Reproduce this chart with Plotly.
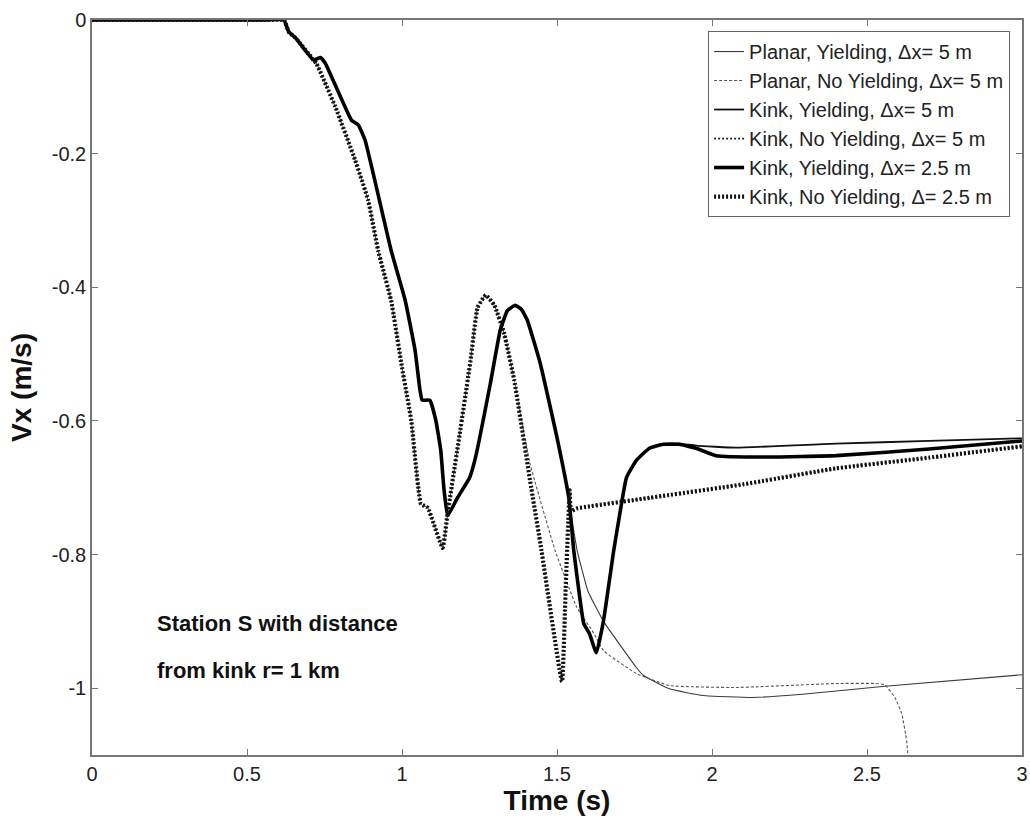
import plotly.graph_objects as go

# ---- data (time in s, Vx in m/s) ----
t_planar_y = [0.0, 0.55, 0.619, 0.635, 0.657, 0.715, 0.737, 0.753, 0.837, 0.859, 0.881, 0.965, 1.01, 1.042, 1.058,
              1.065, 1.09, 1.109, 1.125, 1.135, 1.147, 1.179, 1.218, 1.237, 1.285, 1.317, 1.34, 1.365, 1.385,
              1.404, 1.446, 1.5, 1.538, 1.565, 1.60, 1.65, 1.756, 1.779, 1.862, 1.971, 2.131, 2.292, 2.558, 3.0]
v_planar_y = [0.0, 0.0, 0.0, -0.018, -0.027, -0.06, -0.056, -0.065, -0.15, -0.157, -0.18, -0.345, -0.419, -0.494, -0.554,
              -0.569, -0.569, -0.599, -0.644, -0.70, -0.742, -0.715, -0.685, -0.655, -0.544, -0.464, -0.435, -0.427, -0.433,
              -0.449, -0.514, -0.625, -0.72, -0.794, -0.855, -0.90, -0.969, -0.981, -1.001, -1.011, -1.014, -1.009, -0.997, -0.98]

t_planar_ny = [0.0, 0.55, 0.619, 0.635, 0.657, 0.715, 0.724, 0.785, 0.849, 0.891, 0.923, 0.965, 1.0, 1.03, 1.061, 1.083,
               1.131, 1.147, 1.186, 1.221, 1.244, 1.27, 1.298, 1.33, 1.362, 1.413, 1.494, 1.564, 1.619, 1.65, 1.756,
               1.862, 2.077, 2.4, 2.526, 2.558, 2.59, 2.612, 2.628, 2.64]
v_planar_ny = [0.0, 0.0, 0.0, -0.018, -0.027, -0.06, -0.065, -0.13, -0.21, -0.27, -0.345, -0.42, -0.52, -0.60, -0.724, -0.73,
               -0.79, -0.739, -0.62, -0.51, -0.43, -0.412, -0.427, -0.47, -0.539, -0.664, -0.794, -0.879, -0.918, -0.944, -0.978,
               -0.996, -0.999, -0.993, -0.993, -0.995, -1.014, -1.038, -1.079, -1.15]

t_kink_y5 = [0.0, 0.55, 0.619, 0.635, 0.657, 0.715, 0.737, 0.753, 0.837, 0.859, 0.881, 0.965, 1.01, 1.042, 1.058,
             1.065, 1.09, 1.109, 1.125, 1.135, 1.147, 1.179, 1.218, 1.237, 1.285, 1.317, 1.34, 1.365, 1.385,
             1.404, 1.446, 1.5, 1.538, 1.554, 1.575, 1.586, 1.605, 1.627, 1.65, 1.683, 1.699, 1.724, 1.756,
             1.798, 1.843, 1.894, 1.949, 2.077, 2.4, 2.7, 3.0]
v_kink_y5 = [0.0, 0.0, 0.0, -0.018, -0.027, -0.06, -0.056, -0.065, -0.15, -0.157, -0.18, -0.345, -0.419, -0.494, -0.554,
             -0.569, -0.569, -0.599, -0.644, -0.70, -0.742, -0.715, -0.685, -0.655, -0.544, -0.464, -0.435, -0.427, -0.433,
             -0.449, -0.514, -0.625, -0.715, -0.794, -0.87, -0.903, -0.919, -0.947, -0.899, -0.794, -0.749, -0.685, -0.659,
             -0.641, -0.635, -0.634, -0.637, -0.640, -0.634, -0.630, -0.626]

t_kink_ny5 = [0.0, 0.55, 0.619, 0.635, 0.657, 0.715, 0.724, 0.785, 0.849, 0.891, 0.923, 0.965, 1.0, 1.03, 1.061, 1.083,
              1.131, 1.147, 1.186, 1.221, 1.244, 1.27, 1.298, 1.33, 1.362, 1.413, 1.45, 1.516, 1.528, 1.541, 1.545,
              1.564, 1.8, 2.1, 2.4, 2.7, 3.0]
v_kink_ny5 = [0.0, 0.0, 0.0, -0.018, -0.027, -0.06, -0.065, -0.13, -0.21, -0.27, -0.345, -0.42, -0.52, -0.60, -0.724, -0.73,
              -0.79, -0.739, -0.62, -0.51, -0.43, -0.412, -0.427, -0.47, -0.539, -0.689, -0.794, -0.99, -0.85, -0.704, -0.735,
              -0.731, -0.715, -0.695, -0.671, -0.655, -0.638]

t_kink_y25 = [0.0, 0.55, 0.619, 0.635, 0.657, 0.715, 0.737, 0.753, 0.837, 0.859, 0.881, 0.965, 1.01, 1.042, 1.058,
              1.065, 1.09, 1.109, 1.125, 1.135, 1.147, 1.179, 1.218, 1.237, 1.285, 1.317, 1.34, 1.365, 1.385,
              1.404, 1.446, 1.5, 1.538, 1.554, 1.575, 1.586, 1.605, 1.627, 1.65, 1.683, 1.699, 1.724, 1.756,
              1.798, 1.843, 1.894, 1.949, 2.013, 2.183, 2.4, 2.7, 3.0]
v_kink_y25 = [0.0, 0.0, 0.0, -0.018, -0.027, -0.06, -0.056, -0.065, -0.15, -0.157, -0.18, -0.345, -0.419, -0.494, -0.554,
              -0.569, -0.569, -0.599, -0.644, -0.70, -0.742, -0.715, -0.685, -0.655, -0.544, -0.464, -0.435, -0.427, -0.433,
              -0.449, -0.514, -0.625, -0.715, -0.794, -0.87, -0.903, -0.919, -0.947, -0.899, -0.794, -0.749, -0.685, -0.659,
              -0.641, -0.635, -0.635, -0.641, -0.652, -0.654, -0.652, -0.642, -0.63]

t_kink_ny25 = [0.0, 0.55, 0.619, 0.635, 0.657, 0.715, 0.724, 0.785, 0.849, 0.891, 0.923, 0.965, 1.0, 1.03, 1.061, 1.083,
               1.131, 1.147, 1.186, 1.221, 1.244, 1.27, 1.298, 1.33, 1.362, 1.413, 1.45, 1.516, 1.528, 1.541, 1.545,
               1.564, 1.8, 2.1, 2.4, 2.7, 3.0]
v_kink_ny25 = [0.0, 0.0, 0.0, -0.018, -0.027, -0.06, -0.065, -0.13, -0.21, -0.27, -0.345, -0.42, -0.52, -0.60, -0.724, -0.73,
               -0.79, -0.739, -0.62, -0.51, -0.43, -0.412, -0.427, -0.47, -0.539, -0.689, -0.794, -0.99, -0.85, -0.704, -0.735,
               -0.731, -0.715, -0.695, -0.671, -0.655, -0.638]

series_names = ["Planar, Yielding, \u0394x= 5 m",
                "Planar, No Yielding, \u0394x= 5 m",
                "Kink, Yielding, \u0394x= 5 m",
                "Kink, No Yielding, \u0394x= 5 m",
                "Kink, Yielding, \u0394x= 2.5 m",
                "Kink, No Yielding, \u0394= 2.5 m"]

x_tickvals = [0, 0.5, 1, 1.5, 2, 2.5, 3]
x_ticktext = ["0", "0.5", "1", "1.5", "2", "2.5", "3"]
y_tickvals = [0, -0.2, -0.4, -0.6, -0.8, -1.0]
y_ticktext = ["0", "-0.2", "-0.4", "-0.6", "-0.8", "-1"]

note_lines = ["Station S with distance", "from kink r= 1 km"]

FONT = "Liberation Sans, Arial, Helvetica, sans-serif"

styles = [
    dict(color="#3a3a3a", width=1.1, dash="solid"),
    dict(color="#555555", width=1.1, dash="3px,2px"),
    dict(color="#111111", width=1.8, dash="solid"),
    dict(color="#222222", width=1.8, dash="2px,2px"),
    dict(color="#000000", width=3.6, dash="solid"),
    dict(color="#111111", width=4.2, dash="2px,2px"),
]

data = [(t_planar_y, v_planar_y), (t_planar_ny, v_planar_ny), (t_kink_y5, v_kink_y5),
        (t_kink_ny5, v_kink_ny5), (t_kink_y25, v_kink_y25), (t_kink_ny25, v_kink_ny25)]

fig = go.Figure()
for i, ((tx, vy), name, st) in enumerate(zip(data, series_names, styles)):
    fig.add_trace(go.Scatter(x=tx, y=vy, mode="lines", name=name,
                             line=dict(**st, shape="spline", smoothing=0.35)))

axis_common = dict(showline=True, linecolor="#777777", linewidth=1.5, mirror="ticks",
                   ticks="inside", ticklen=6, tickcolor="#777777", tickwidth=1.2,
                   showgrid=False, zeroline=False, ticklabeloverflow="allow",
                   tickfont=dict(family=FONT, size=20, color="#222222"))

fig.update_xaxes(range=[0, 3], tickvals=x_tickvals, ticktext=x_ticktext,
                 title=dict(text="<b>Time (s)</b>", font=dict(family=FONT, size=28, color="#111111"), standoff=4),
                 **axis_common)
fig.update_yaxes(range=[-1.1, 0], tickvals=y_tickvals, ticktext=y_ticktext,
                 title=dict(text="<b>Vx (m/s)</b>", font=dict(family=FONT, size=28, color="#111111"), standoff=12),
                 **axis_common)

for k, line in enumerate(note_lines):
    fig.add_annotation(x=0.202, y=[-0.903, -0.974][k], xref="x", yref="y", text=f"<b>{line}</b>",
                       showarrow=False, xanchor="left", yanchor="middle",
                       font=dict(family=FONT, size=22, color="#111111"))

fig.update_layout(
    width=1030, height=818,
    margin=dict(l=92, r=2, t=20, b=63),
    paper_bgcolor="white", plot_bgcolor="white",
    showlegend=True,
    legend=dict(x=0.9872, y=0.985, xanchor="right", yanchor="top",
                bgcolor="white", bordercolor="#666666", borderwidth=1,
                font=dict(family=FONT, size=20, color="#222222"),
                traceorder="normal"),
)

fig.write_html("out.html")
